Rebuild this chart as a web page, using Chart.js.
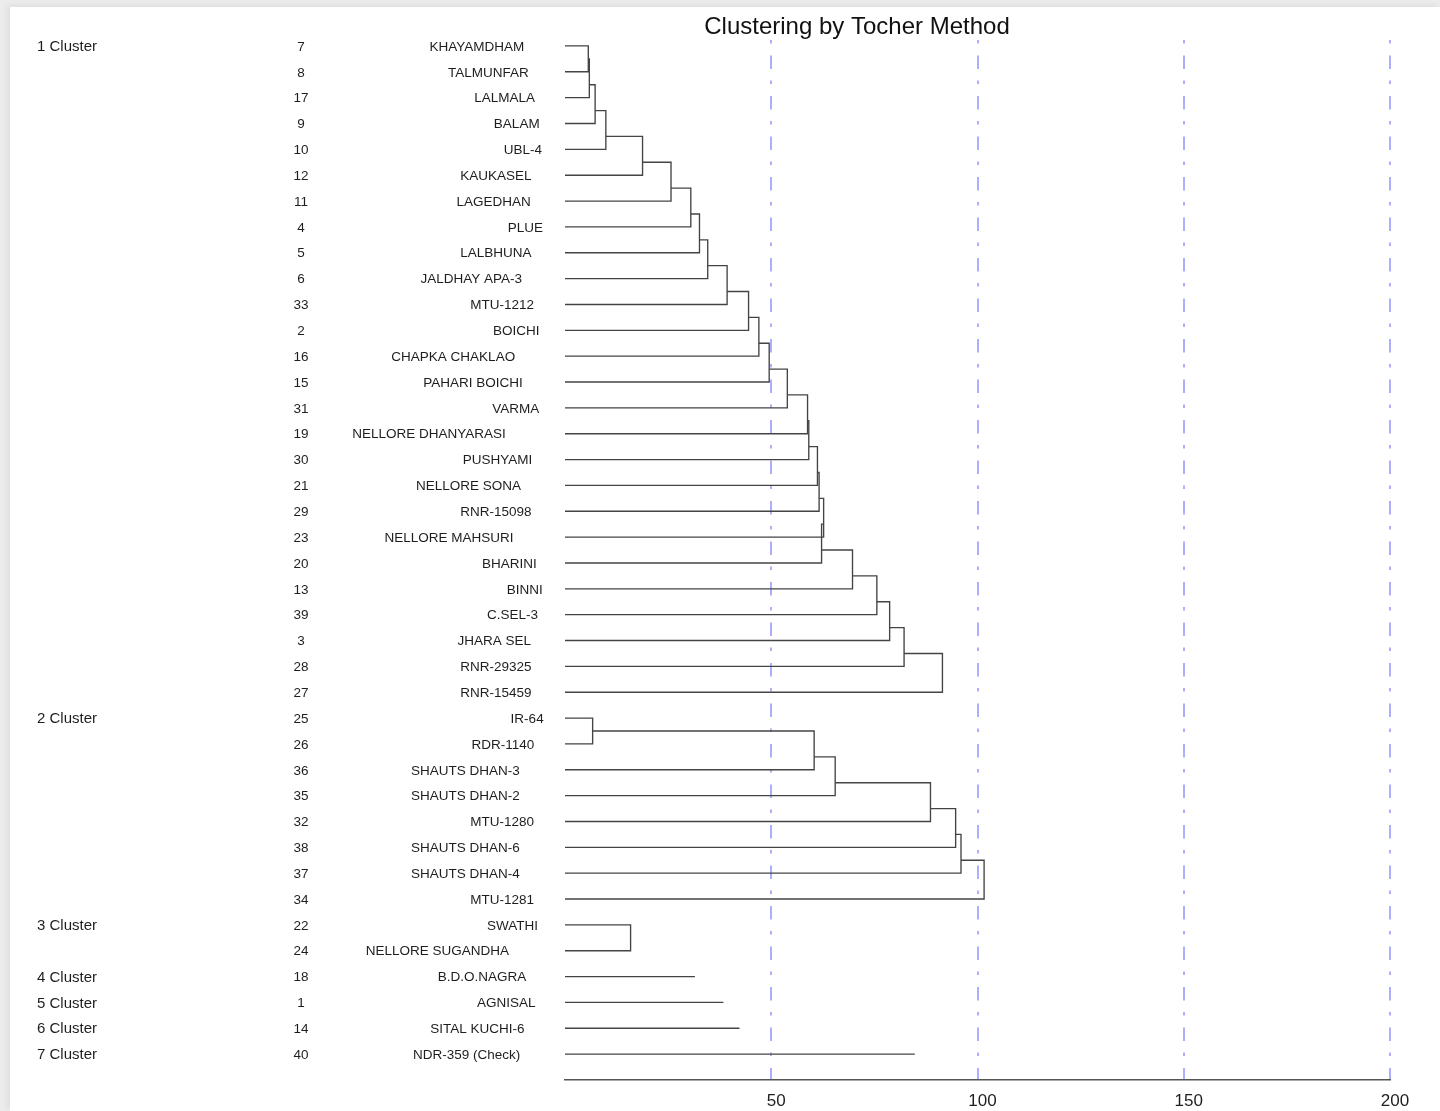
<!DOCTYPE html>
<html>
<head>
<meta charset="utf-8">
<title>Clustering by Tocher Method</title>
<script src="https://cdn.jsdelivr.net/npm/chart.js@4.4.1/dist/chart.umd.min.js"></script>
<style>
    html, body { margin: 0; padding: 0; background: #ececec; }
    body { width: 1440px; height: 1111px; position: relative; overflow: hidden; }
    .sheet {
        position: absolute; left: 10px; top: 7px; right: 0; bottom: 0;
        background: #fff;
        box-shadow: -3px -2px 6px rgba(0, 0, 0, 0.06);
    }
    #tocherChart { position: absolute; left: 0; top: 0; }
</style>
</head>
<body>
<div class="sheet"></div>
<canvas id="tocherChart" width="1440" height="1111"></canvas>

<script>
// ====================== DATA ======================
const chartTitle = "Clustering by Tocher Method";

const clusterLabels = ["1 Cluster", "2 Cluster", "3 Cluster", "4 Cluster", "5 Cluster", "6 Cluster", "7 Cluster"];
const clusterSizes = [26, 8, 2, 1, 1, 1, 1];

const genotypeNos = [7, 8, 17, 9, 10, 12, 11, 4, 5, 6, 33, 2, 16, 15, 31, 19, 30, 21, 29, 23, 20, 13, 39, 3, 28, 27,
    25, 26, 36, 35, 32, 38, 37, 34,
    22, 24,
    18, 1, 14, 40];

const genotypeNames = ["KHAYAMDHAM", "TALMUNFAR", "LALMALA", "BALAM", "UBL-4", "KAUKASEL", "LAGEDHAN", "PLUE",
    "LALBHUNA", "JALDHAY APA-3", "MTU-1212", "BOICHI", "CHAPKA CHAKLAO", "PAHARI BOICHI", "VARMA",
    "NELLORE DHANYARASI", "PUSHYAMI", "NELLORE SONA", "RNR-15098", "NELLORE MAHSURI", "BHARINI", "BINNI",
    "C.SEL-3", "JHARA SEL", "RNR-29325", "RNR-15459",
    "IR-64", "RDR-1140", "SHAUTS DHAN-3", "SHAUTS DHAN-2", "MTU-1280", "SHAUTS DHAN-6", "SHAUTS DHAN-4", "MTU-1281",
    "SWATHI", "NELLORE SUGANDHA",
    "B.D.O.NAGRA", "AGNISAL", "SITAL KUCHI-6", "NDR-359 (Check)"];

const cluster1Levels = [5.65, 5.9, 7.3, 9.9, 18.8, 25.7, 30.5, 32.6, 34.6, 39.3, 44.5, 47.0, 49.5, 53.9,
    58.8, 59.1, 61.2, 61.6, 62.7, 62.2, 69.7, 75.6, 78.7, 82.2, 91.5];
const cluster2Levels = [6.7, 60.4, 65.5, 88.6, 94.7, 96.0, 101.6];
const cluster3Levels = [15.9];
const cluster4Levels = [31.5];
const cluster5Levels = [38.4];
const cluster6Levels = [42.3];
const cluster7Levels = [84.8];

const xTickValues = [50, 100, 150, 200];

// ====================== BUILD TREE PATHS ======================
const clusterLevels = [cluster1Levels, cluster2Levels, cluster3Levels, cluster4Levels,
    cluster5Levels, cluster6Levels, cluster7Levels];

function pathSet(points) {
    return {
        data: points,
        showLine: true,
        borderColor: "#444",
        borderWidth: 1.35,
        pointRadius: 0,
        pointHoverRadius: 0,
        fill: false,
        tension: 0
    };
}

const treeSets = [];
let startRow = 0;
clusterSizes.forEach((size, c) => {
    const lv = clusterLevels[c];
    if (size === 1) {
        treeSets.push(pathSet([{ x: 0, y: startRow }, { x: lv[0], y: startRow }]));
    } else {
        // first pair
        treeSets.push(pathSet([
            { x: 0, y: startRow }, { x: lv[0], y: startRow },
            { x: lv[0], y: startRow + 1 }, { x: 0, y: startRow + 1 }
        ]));
        // each further member hooks onto the previous node
        for (let j = 2; j < size; j++) {
            const row = startRow + j;
            const nodeY = row - 1.5;
            treeSets.push(pathSet([
                { x: 0, y: row }, { x: lv[j - 1], y: row },
                { x: lv[j - 1], y: nodeY }, { x: lv[j - 2], y: nodeY }
            ]));
        }
    }
    startRow += size;
});

// ====================== TEXT COLUMNS ======================
const FONT = '"Liberation Sans", Arial, Helvetica, sans-serif';

const rowLabelsPlugin = {
    id: "rowLabels",
    afterDraw(chart) {
        const ctx = chart.ctx;
        const yScale = chart.scales.y;
        const rowY = i => yScale.getPixelForValue(i) + 1;
        ctx.save();
        ctx.fillStyle = "#1e1e1e";
        ctx.textBaseline = "middle";

        // cluster headings
        ctx.font = "15px " + FONT;
        ctx.textAlign = "left";
        let row = 0;
        clusterLabels.forEach((label, c) => {
            ctx.fillText(label, 37, rowY(row));
            row += clusterSizes[c];
        });

        // genotype numbers
        ctx.font = "13.5px " + FONT;
        ctx.textAlign = "center";
        genotypeNos.forEach((n, i) => {
            ctx.fillText(String(n), 301, rowY(i));
        });

        // genotype names
        ctx.textAlign = "left";
        genotypeNames.forEach((name, i) => {
            const w = ctx.measureText(name).width;
            ctx.fillText(name, 554 - 1.314 * w, rowY(i));
        });

        // title
        ctx.font = "24px " + FONT;
        ctx.fillStyle = "#111";
        ctx.textAlign = "center";
        ctx.fillText(chartTitle, 857, 27);
        ctx.restore();
    }
};

// ====================== CHART ======================
new Chart(document.getElementById("tocherChart").getContext("2d"), {
    type: "scatter",
    data: { datasets: treeSets },
    options: {
        responsive: false,
        animation: false,
        devicePixelRatio: 1,
        events: [],
        layout: { padding: { left: 565, right: 50, top: 40, bottom: 0 } },
        plugins: {
            legend: { display: false },
            title: { display: false },
            tooltip: { enabled: false }
        },
        scales: {
            x: {
                type: "linear",
                position: "bottom",
                min: 0,
                max: 200,
                afterBuildTicks: s => { s.ticks = xTickValues.map(v => ({ value: v })); },
                afterFit: s => { s.height = 31; },
                grid: {
                    color: "rgba(120, 120, 255, 0.6)",
                    lineWidth: 2,
                    drawTicks: false
                },
                border: {
                    display: true,
                    color: "#555",
                    width: 1.5,
                    dash: [13.5, 11.5, 3.5, 12],
                    dashOffset: 25
                },
                ticks: {
                    color: "#1e1e1e",
                    padding: 11,
                    labelOffset: 5,
                    maxRotation: 0,
                    font: { family: FONT, size: 17 }
                }
            },
            y: {
                type: "linear",
                display: false,
                reverse: true,
                min: -0.23,
                max: 40
            }
        }
    },
    plugins: [rowLabelsPlugin]
});
</script>
</body>
</html>
